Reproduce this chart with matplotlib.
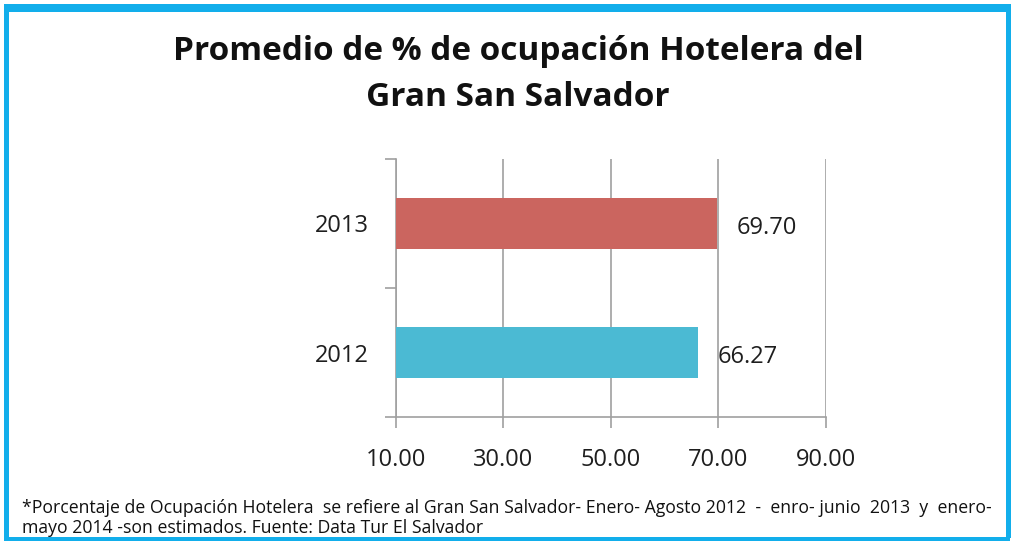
import matplotlib.pyplot as plt
from matplotlib.patches import Rectangle

years = ["2012", "2013"]
values = [66.27, 69.70]
colors = ["#4BBAD3", "#CB655F"]
xticks = [10, 30, 50, 70, 90]

fig = plt.figure(figsize=(10.14, 5.41), dpi=100)
fam = ["Open Sans", "DejaVu Sans"]

# blue border
W, H = 1014, 541
def px(x, y, w, h):
    return Rectangle((x / W, 1 - (y + h) / H), w / W, h / H, transform=fig.transFigure,
                     color="#12AEEB", lw=0, zorder=10)
fig.patches.extend([px(4, 4, 1006, 8), px(4, 4, 5, 534), px(1006, 4, 5, 534), px(4, 537, 1006, 4)])

ax = fig.add_axes([395.5 / W, 1 - 417 / H, (826 - 395.5) / W, (417 - 159) / H])
gc = "#A0A0A0"
tc = "#1E1E1E"
ax.barh([0, 1], [v - 10 for v in values], left=10, height=0.39, color=colors, zorder=3)
ax.set_xlim(10, 90)
ax.set_ylim(-0.5, 1.5)
ax.set_xticks(xticks)
ax.set_xticklabels([f"{t:.2f}" for t in xticks], fontsize=17, family=fam, color=tc)
ax.set_yticks([0, 1])
ax.set_yticklabels(years, fontsize=17, family=fam, color=tc)
ax.set_yticks([-0.5, 0.5, 1.5], minor=True)
ax.tick_params(axis="y", which="major", length=0, pad=19)
ax.tick_params(axis="y", which="minor", length=8, color=gc, width=1.2)
ax.tick_params(axis="x", length=8, color=gc, width=1.2, pad=14)
ax.grid(axis="x", color=gc, lw=1.2, zorder=1)
for s in ["top", "right"]:
    ax.spines[s].set_visible(False)
for s in ["left", "bottom"]:
    ax.spines[s].set_color(gc)
    ax.spines[s].set_linewidth(1.2)

for i, v in enumerate(values):
    ax.annotate(f"{v:.2f}", (v, i), xytext=(14, -3), textcoords="offset points",
                va="center", ha="left", fontsize=17, family=fam, color=tc)

fig.text(0.511, 1 - 52 / H, "Promedio de % de ocupación Hotelera del", ha="center", va="center",
         fontsize=24, fontweight="bold", family=fam, color="#111111")
fig.text(0.511, 1 - 97 / H, "Gran San Salvador", ha="center", va="center",
         fontsize=24, fontweight="bold", family=fam, color="#111111")

fig.text(22 / W, 1 - 508 / H, "*Porcentaje de Ocupación Hotelera  se refiere al Gran San Salvador- Enero- Agosto 2012  -  enro- junio  2013  y  enero-",
         ha="left", va="center", fontsize=12.7, family=fam, color="#111111")
fig.text(22 / W, 1 - 528 / H, "mayo 2014 -son estimados. Fuente: Data Tur El Salvador",
         ha="left", va="center", fontsize=12.7, family=fam, color="#111111")

fig.savefig("out.png", dpi=100)
